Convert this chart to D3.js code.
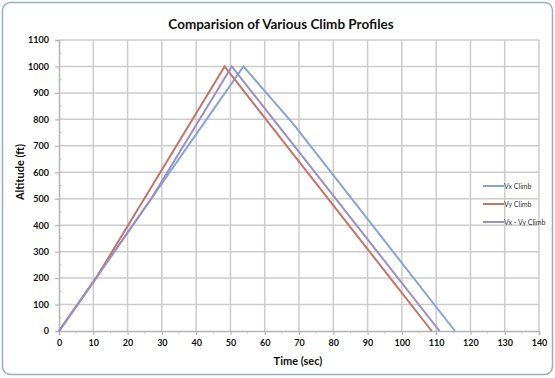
<!DOCTYPE html>
<html>
<head>
<meta charset="utf-8">
<script src="https://cdn.jsdelivr.net/npm/d3@7"></script>
<style>
  body { margin: 0; background: #fff; }
  text { font-family: Lato, "Open Sans", sans-serif; }
</style>
</head>
<body>
<div id="chart"></div>
<script>
// Chart data (time in seconds, altitude in feet)
const seriesNames = ["Vx Climb", "Vy Climb", "Vx - Vy Climb"];
const vxTime = [0, 53.8, 68.5, 115.5];
const vxAlt = [0, 1000, 780, 0];
const vyTime = [0, 10.8, 48.3, 108.7];
const vyAlt = [0, 200, 1000, 0];
const vxvyTime = [0, 26.9, 50.4, 111];
const vxvyAlt = [0, 500, 1000, 0];
const xTicks = d3.range(0, 141, 10);
const yTicks = d3.range(0, 1101, 100);
const colors = ["#86a5d6", "#c27468", "#9b8ec3"];

const W = 555, H = 378;
const margin = { top: 40, right: 16, bottom: 47, left: 59 };
const width = W - margin.left - margin.right;
const height = H - margin.top - margin.bottom;

const root = d3.select("#chart").append("svg")
  .attr("width", W)
  .attr("height", H);

// outer frame
root.append("rect")
  .attr("x", 2.5).attr("y", 2.5)
  .attr("width", W - 5).attr("height", H - 6)
  .attr("rx", 8)
  .attr("fill", "#fff")
  .attr("stroke", "#97abd0")
  .attr("stroke-width", 1.5);

const svg = root.append("g")
  .attr("transform", `translate(${margin.left},${margin.top})`);

const x = d3.scaleLinear().domain([0, 140]).range([0, width]);
const y = d3.scaleLinear().domain([0, 1100]).range([height, 0]);

// grid lines
svg.append("g")
  .attr("class", "grid")
  .selectAll("line.v")
  .data(xTicks.slice(1))
  .enter().append("line")
  .attr("x1", d => x(d)).attr("x2", d => x(d))
  .attr("y1", 0).attr("y2", height)
  .attr("stroke", "#cccccc").attr("stroke-width", 1.5);

svg.append("g")
  .attr("class", "grid")
  .selectAll("line.h")
  .data(yTicks.slice(1))
  .enter().append("line")
  .attr("x1", 0).attr("x2", width)
  .attr("y1", d => y(d)).attr("y2", d => y(d))
  .attr("stroke", "#cccccc").attr("stroke-width", 1.5);

// minor ticks
svg.append("g")
  .selectAll("line")
  .data(d3.range(5, 140, 10))
  .enter().append("line")
  .attr("x1", d => x(d)).attr("x2", d => x(d))
  .attr("y1", height).attr("y2", height + 2.5)
  .attr("stroke", "#bbbbbb");

svg.append("g")
  .selectAll("line")
  .data(d3.range(50, 1100, 100))
  .enter().append("line")
  .attr("x1", 0).attr("x2", 2.5)
  .attr("y1", d => y(d)).attr("y2", d => y(d))
  .attr("stroke", "#bbbbbb");

// axes
const xAxis = d3.axisBottom(x).tickValues(xTicks).tickSize(4).tickPadding(5)
  .tickFormat(d3.format("d"));
const yAxis = d3.axisLeft(y).tickValues(yTicks).tickSize(4).tickPadding(6)
  .tickFormat(d3.format("d"));

const gx = svg.append("g")
  .attr("transform", `translate(0,${height})`)
  .call(xAxis);
const gy = svg.append("g").call(yAxis);

[gx, gy].forEach(g => {
  g.select(".domain").attr("stroke", "#b5b5b5").attr("stroke-width", 1.5);
  g.selectAll(".tick line").attr("stroke", "#b5b5b5").attr("stroke-width", 1.2);
  g.selectAll(".tick text")
    .attr("fill", "#111")
    .style("font-size", "9px")
    .style("font-weight", "bold")
    .style("font-family", "Lato, 'Open Sans', sans-serif");
});

// lines
const series = [
  { name: seriesNames[0], t: vxTime, a: vxAlt },
  { name: seriesNames[1], t: vyTime, a: vyAlt },
  { name: seriesNames[2], t: vxvyTime, a: vxvyAlt }
];

const line = d3.line()
  .x(d => x(d[0]))
  .y(d => y(d[1]));

svg.selectAll(".series")
  .data(series)
  .enter().append("path")
  .attr("class", "series")
  .attr("fill", "none")
  .attr("stroke", (d, i) => colors[i])
  .attr("stroke-width", 2)
  .attr("d", d => line(d.t.map((t, i) => [t, d.a[i]])));

// legend
const legend = root.append("g")
  .attr("transform", "translate(483,186)");

legend.selectAll("g")
  .data(seriesNames)
  .enter().append("g")
  .attr("transform", (d, i) => `translate(0,${i * 18})`)
  .each(function (d, i) {
    const g = d3.select(this);
    g.append("line")
      .attr("x1", 0).attr("x2", 21)
      .attr("stroke", colors[i]).attr("stroke-width", 2);
    g.append("text")
      .attr("x", 21).attr("y", 2.5)
      .attr("fill", "#333")
      .style("font-size", "7px")
      .text(d);
  });

// title and axis labels
root.append("text")
  .attr("x", 281).attr("y", 29)
  .attr("text-anchor", "middle")
  .style("font-size", "13.5px")
  .style("font-weight", "bold")
  .attr("fill", "#111")
  .text("Comparision of Various Climb Profiles");

root.append("text")
  .attr("x", 298).attr("y", 365)
  .attr("text-anchor", "middle")
  .style("font-size", "11px")
  .style("font-weight", "bold")
  .attr("fill", "#111")
  .text("Time (sec)");

root.append("text")
  .attr("transform", "translate(24,172) rotate(-90)")
  .attr("text-anchor", "middle")
  .style("font-size", "11px")
  .style("font-weight", "bold")
  .attr("fill", "#111")
  .text("Altitude (ft)");
</script>
</body>
</html>
